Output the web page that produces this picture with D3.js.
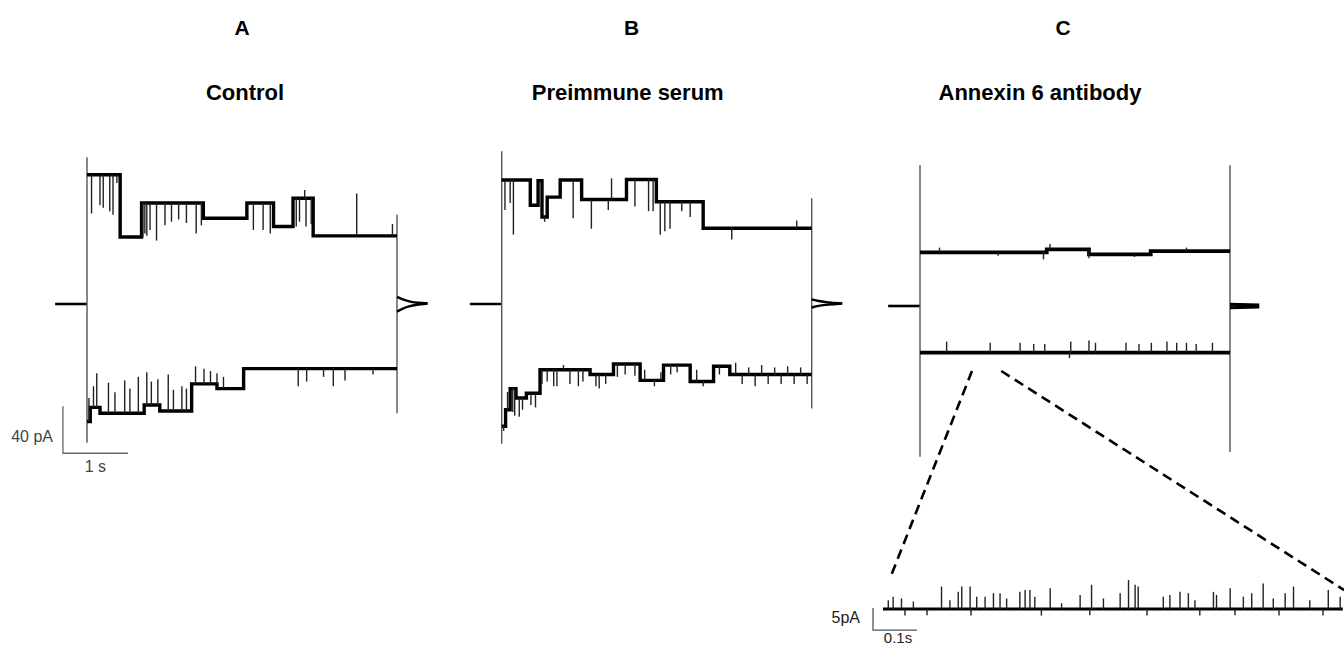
<!DOCTYPE html>
<html>
<head>
<meta charset="utf-8">
<script src="https://cdn.jsdelivr.net/npm/d3@7/dist/d3.min.js"></script>
<style>
  body { margin: 0; background: #fff; }
  text { font-family: "Liberation Sans", Arial, sans-serif; }
</style>
</head>
<body>
<svg id="chart" width="1344" height="646"></svg>
<script>
// ---------- 数据（时间单位 s，电流单位 pA） ----------
// 每段电平: [起始时间, 结束时间, 电流]
// 每个尖峰: [时间, 尖峰到达的电流]
var stepDur = 4.77

var panelLetters = ["A", "B", "C"]
var panelTitles = ["Control", "Preimmune serum", "Annexin 6 antibody"]
var holdCurrent = [0, 0, -1.7]

// A: Control
var aTopLevels = [[0, 0.51, 110], [0.51, 0.84, 57], [0.84, 1.79, 86], [1.79, 2.46, 73], [2.46, 2.87, 86], [2.87, 3.17, 66], [3.17, 3.48, 90], [3.48, 4.77, 58]]
var aTopSpikes = [[0.07, 77], [0.2, 84], [0.25, 82], [0.35, 79], [0.40, 76], [0.46, 103], [0.86, 57], [0.89, 60], [0.92, 58],
                  [0.97, 63], [1.07, 54], [1.2, 67], [1.30, 70], [1.41, 72], [1.53, 69], [1.68, 60], [1.76, 67],
                  [2.56, 63], [2.71, 63], [2.82, 60], [3.22, 66], [3.27, 70], [3.35, 97], [3.37, 66], [3.45, 68], [4.15, 94], [4.70, 68]]
var aBotLevels = [[0, 0.05, -100], [0.05, 0.2, -88], [0.2, 0.88, -93], [0.88, 1.12, -86], [1.12, 1.61, -91], [1.61, 2.0, -68], [2.0, 2.41, -72], [2.41, 4.77, -55]]
var aBotSpikes = [[0.03, -80], [0.1, -70], [0.15, -59], [0.33, -67], [0.43, -75], [0.58, -65], [0.66, -72], [0.79, -62], [0.92, -58],
                  [0.99, -66], [1.09, -64], [1.25, -60], [1.33, -73], [1.46, -70], [1.53, -72], [1.67, -53], [1.80, -55],
                  [1.90, -57], [2.0, -59], [2.1, -62], [3.25, -70], [3.38, -66], [3.64, -62], [3.79, -70], [3.97, -65], [4.4, -60]]
var aPeaks = [125, -118, 76, -93]
var aTailUp = [[0, 6], [0.1, 3.5], [0.2, 2], [0.32, 1], [0.47, 0.6]]
var aTailDown = [[0, -6.5], [0.08, -4], [0.18, -2], [0.3, -0.5], [0.47, 0.3]]

// B: Preimmune serum
var bTopLevels = [[0, 0.44, 105.5], [0.44, 0.56, 84], [0.56, 0.62, 105], [0.62, 0.70, 74], [0.70, 0.90, 91], [0.90, 1.23, 105.5],
                  [1.23, 1.92, 89], [1.92, 2.38, 106], [2.38, 3.10, 87], [3.10, 4.77, 64.5]]
var bTopSpikes = [[0.05, 80], [0.13, 86], [0.18, 59], [0.66, 70], [1.10, 73], [1.38, 64], [1.64, 80], [1.69, 107], [2.05, 83],
                  [2.26, 79], [2.33, 79], [2.44, 59], [2.51, 62], [2.59, 64], [2.77, 79], [2.90, 74], [3.54, 55], [4.54, 71]]
var bBotLevels = [[0, 0.06, -104], [0.06, 0.13, -90], [0.13, 0.22, -72], [0.22, 0.38, -80], [0.38, 0.59, -76], [0.59, 1.36, -56],
                  [1.36, 1.72, -60], [1.72, 2.13, -51], [2.13, 2.49, -65], [2.49, 2.90, -52], [2.90, 3.26, -66], [3.26, 3.51, -53], [3.51, 4.77, -60]]
var bBotSpikes = [[0.03, -108], [0.09, -75], [0.17, -92], [0.2, -95], [0.27, -96], [0.32, -90], [0.45, -86], [0.52, -88],
                  [0.62, -68], [0.7, -66], [0.8, -70], [0.85, -70], [0.95, -52], [1.05, -68], [1.18, -70], [1.25, -66],
                  [1.45, -70], [1.5, -72], [1.6, -68], [1.78, -62], [1.9, -60], [2.05, -61], [2.2, -56], [2.35, -70],
                  [2.45, -58], [2.6, -60], [2.7, -58], [3.0, -56], [3.1, -70], [3.35, -60], [3.6, -50], [3.7, -68],
                  [3.8, -54], [3.9, -70], [4.0, -52], [4.1, -68], [4.2, -54], [4.3, -68], [4.4, -53], [4.5, -68], [4.6, -54], [4.7, -68]]
var bPeaks = [130, -119, 90, -89]
var bTailUp = [[0, 4], [0.1, 2.5], [0.25, 1.2], [0.47, 0.5]]
var bTailDown = [[0, -3], [0.1, -1.5], [0.25, -0.5], [0.47, 0.3]]

// C: Annexin 6 antibody
var cTopLevels = [[0, 1.95, 44], [1.95, 2.6, 46.5], [2.6, 3.55, 42.3], [3.55, 4.77, 45]]
var cTopSpikes = [[0.3, 48], [1.2, 41], [1.9, 38], [2.0, 51], [2.6, 39], [3.3, 40], [4.1, 48]]
var cBotLevels = [[0, 4.77, -41.3]]
var cBotSpikes = [[0.41, -32], [1.08, -33], [1.54, -33], [1.75, -34], [1.92, -34], [2.3, -46], [2.32, -32], [2.6, -31], [2.7, -33],
                  [3.17, -33], [3.37, -34], [3.56, -33], [3.8, -32], [3.95, -33], [4.1, -33], [4.25, -34], [4.5, -33]]
var cPeaks = [118, -130, 118, -126]
var cTailUp = [[0, -0.3], [0.45, -1.0]]
var cTailDown = [[0, -3.2], [0.45, -2.4]]

// C 放大插图（0–1.045 s）
var insetLevels = [[0, 1.045, 0]]
var insetSpikes = [[0.012, 2.0], [0.023, 2.8], [0.042, 2.4], [0.05, -1.5], [0.069, 1.7], [0.1, -1.4], [0.133, 5.1], [0.152, 2.0],
                   [0.171, 3.9], [0.179, 5.1], [0.198, 5.1], [0.2, -1.5], [0.213, 2.8], [0.232, 2.8], [0.251, 3.6], [0.266, 3.6],
                   [0.281, 2.4], [0.311, 3.9], [0.323, 4.3], [0.334, 4.3], [0.345, 2.8], [0.36, -1.5], [0.380, 4.7], [0.406, 1.3],
                   [0.448, 3.2], [0.47, -1.4], [0.474, 5.5], [0.501, 2.4], [0.539, 3.6], [0.558, 6.6], [0.573, 5.5], [0.58, 5.1],
                   [0.6, -1.5], [0.637, 2.8], [0.652, 3.2], [0.675, 3.9], [0.694, 3.6], [0.709, 2.0], [0.72, -1.5], [0.751, 3.9],
                   [0.758, 3.2], [0.789, 4.7], [0.8, -1.4], [0.819, 2.8], [0.838, 3.6], [0.864, 5.8], [0.887, 2.4], [0.9, -1.5],
                   [0.914, 3.6], [0.933, 5.1], [0.970, 2.0], [1.0, -1.5], [1.012, 4.3], [1.039, 2.8]]

// 标尺
var barA = {pA: 40, s: 1, label: "40 pA", timeLabel: "1 s"}
var barInset = {pA: 5, s: 0.1, label: "5pA", timeLabel: "0.1s"}

// ---------- 绘图 ----------
var svg = d3.select("#chart")
svg.append("rect").attr("width", 1344).attr("height", 646).attr("fill", "#fff")

var yScale = d3.scaleLinear()
    .domain([-130, 130])
    .range([304 + 130 * 1.175, 304 - 130 * 1.175])

function levelAt(levels, t) {
    for (var s of levels) {
        if (t >= s[0] && t <= s[1]) return s[2]
    }
    return levels[levels.length - 1][2]
}

function drawTrace(g, x, y, levels, spikes, width) {
    var line = d3.line().x(d => x(d[0])).y(d => y(d[1]))
    var pts = []
    levels.forEach(function (seg) {
        pts.push([seg[0], seg[2]])
        pts.push([seg[1], seg[2]])
    })
    g.append("path")
        .attr("d", line(pts))
        .attr("fill", "none")
        .attr("stroke", "#000")
        .attr("stroke-width", width)
    g.append("g")
        .selectAll("line")
        .data(spikes)
        .enter()
        .append("line")
        .attr("x1", d => x(d[0]))
        .attr("x2", d => x(d[0]))
        .attr("y1", d => y(levelAt(levels, d[0])))
        .attr("y2", d => y(d[1]))
        .attr("stroke", "#222")
        .attr("stroke-width", 1.4)
}

// 标题位置（相对面板中心的偏移，px）
var letterShift = [0, -25, -12]
var titleShift = [3, -29, -35]

var panels = [
    {x0: 87, top: aTopLevels, topSpikes: aTopSpikes, bot: aBotLevels, botSpikes: aBotSpikes, peaks: aPeaks, tailUp: aTailUp, tailDown: aTailDown, w: 3.4, tw: 2.4},
    {x0: 501.7, top: bTopLevels, topSpikes: bTopSpikes, bot: bBotLevels, botSpikes: bBotSpikes, peaks: bPeaks, tailUp: bTailUp, tailDown: bTailDown, w: 3.4, tw: 2.4},
    {x0: 920, top: cTopLevels, topSpikes: cTopSpikes, bot: cBotLevels, botSpikes: cBotSpikes, peaks: cPeaks, tailUp: cTailUp, tailDown: cTailDown, w: 3.8, tw: 3.2}
]

var xScales = []

panels.forEach(function (p, i) {
    var x = d3.scaleLinear().domain([0, stepDur]).range([p.x0, p.x0 + 310])
    xScales.push(x)
    var hold = holdCurrent[i]
    var g = svg.append("g").attr("class", "panel-" + i)
    var line = d3.line().x(d => x(d[0])).y(d => yScale(d[1]))
    var cx = x(stepDur / 2)

    // 字母与标题
    g.append("text")
        .attr("x", cx + letterShift[i]).attr("y", 35)
        .attr("text-anchor", "middle")
        .attr("font-size", 21).attr("font-weight", "bold")
        .text(panelLetters[i])
    g.append("text")
        .attr("x", cx + titleShift[i]).attr("y", 100)
        .attr("text-anchor", "middle")
        .attr("font-size", 22).attr("font-weight", "bold")
        .text(panelTitles[i])

    // 保持电位基线
    g.append("path")
        .attr("d", line([[-0.49, hold], [0, hold]]))
        .attr("fill", "none").attr("stroke", "#000").attr("stroke-width", 2.6)

    // 电容瞬变（竖线）
    g.append("line")
        .attr("x1", x(0)).attr("x2", x(0))
        .attr("y1", yScale(p.peaks[0])).attr("y2", yScale(p.peaks[1]))
        .attr("stroke", "#555").attr("stroke-width", 1.4)
    g.append("line")
        .attr("x1", x(stepDur)).attr("x2", x(stepDur))
        .attr("y1", yScale(p.peaks[2])).attr("y2", yScale(p.peaks[3]))
        .attr("stroke", "#555").attr("stroke-width", 1.4)

    drawTrace(g, x, yScale, p.top, p.topSpikes, p.w)
    drawTrace(g, x, yScale, p.bot, p.botSpikes, p.w)

    // 尾电流
    var tailLine = d3.line().curve(d3.curveBasis).x(d => x(stepDur + d[0])).y(d => yScale(d[1]))
    ;[p.tailUp, p.tailDown].forEach(function (t) {
        g.append("path")
            .attr("d", tailLine(t))
            .attr("fill", "none").attr("stroke", "#000").attr("stroke-width", p.tw)
    })
})

// A 标尺
var xA = xScales[0]
var barT0 = -0.37, barI0 = -127
svg.append("path")
    .attr("d", d3.line()([[xA(barT0), yScale(barI0 + barA.pA)], [xA(barT0), yScale(barI0)], [xA(barT0 + barA.s), yScale(barI0)]]))
    .attr("fill", "none").attr("stroke", "#666").attr("stroke-width", 1.3)
svg.append("text")
    .attr("x", xA(barT0) - 10).attr("y", yScale(barI0 + barA.pA / 2) + 12)
    .attr("text-anchor", "end").attr("font-size", 16).attr("fill", "#444")
    .text(barA.label)
svg.append("text")
    .attr("x", xA(barT0 + barA.s / 2)).attr("y", yScale(barI0) + 19)
    .attr("text-anchor", "middle").attr("font-size", 16).attr("fill", "#444")
    .text(barA.timeLabel)

// 放大插图
var xi = d3.scaleLinear().domain([0, 0.1]).range([883, 927])
var yi = d3.scaleLinear().domain([0, 5]).range([609, 587])
var gi = svg.append("g").attr("class", "inset")
drawTrace(gi, xi, yi, insetLevels, insetSpikes, 3)

var ibT0 = -0.0227, ibI0 = -4.8
gi.append("path")
    .attr("d", d3.line()([[xi(ibT0), yi(ibI0 + barInset.pA)], [xi(ibT0), yi(ibI0)], [xi(ibT0 + barInset.s), yi(ibI0)]]))
    .attr("fill", "none").attr("stroke", "#555").attr("stroke-width", 1.3)
gi.append("text")
    .attr("x", xi(ibT0) - 13).attr("y", yi(ibI0 + barInset.pA * 0.6) + 6)
    .attr("text-anchor", "end").attr("font-size", 16).attr("fill", "#222")
    .text(barInset.label)
gi.append("text")
    .attr("x", xi(ibT0 + barInset.s / 2) + 3).attr("y", yi(ibI0) + 13)
    .attr("text-anchor", "middle").attr("font-size", 15).attr("fill", "#222")
    .text(barInset.timeLabel)

// 虚线连接
var xC = xScales[2]
var links = [[[0.8, -57], [0.016, 7]], [[1.25, -57], [1.048, 4.3]]]
links.forEach(function (l) {
    svg.append("line")
        .attr("x1", xC(l[0][0])).attr("y1", yScale(l[0][1]))
        .attr("x2", xi(l[1][0])).attr("y2", yi(l[1][1]))
        .attr("stroke", "#000").attr("stroke-width", 2.6)
        .attr("stroke-dasharray", "10,6")
})
</script>
</body>
</html>
